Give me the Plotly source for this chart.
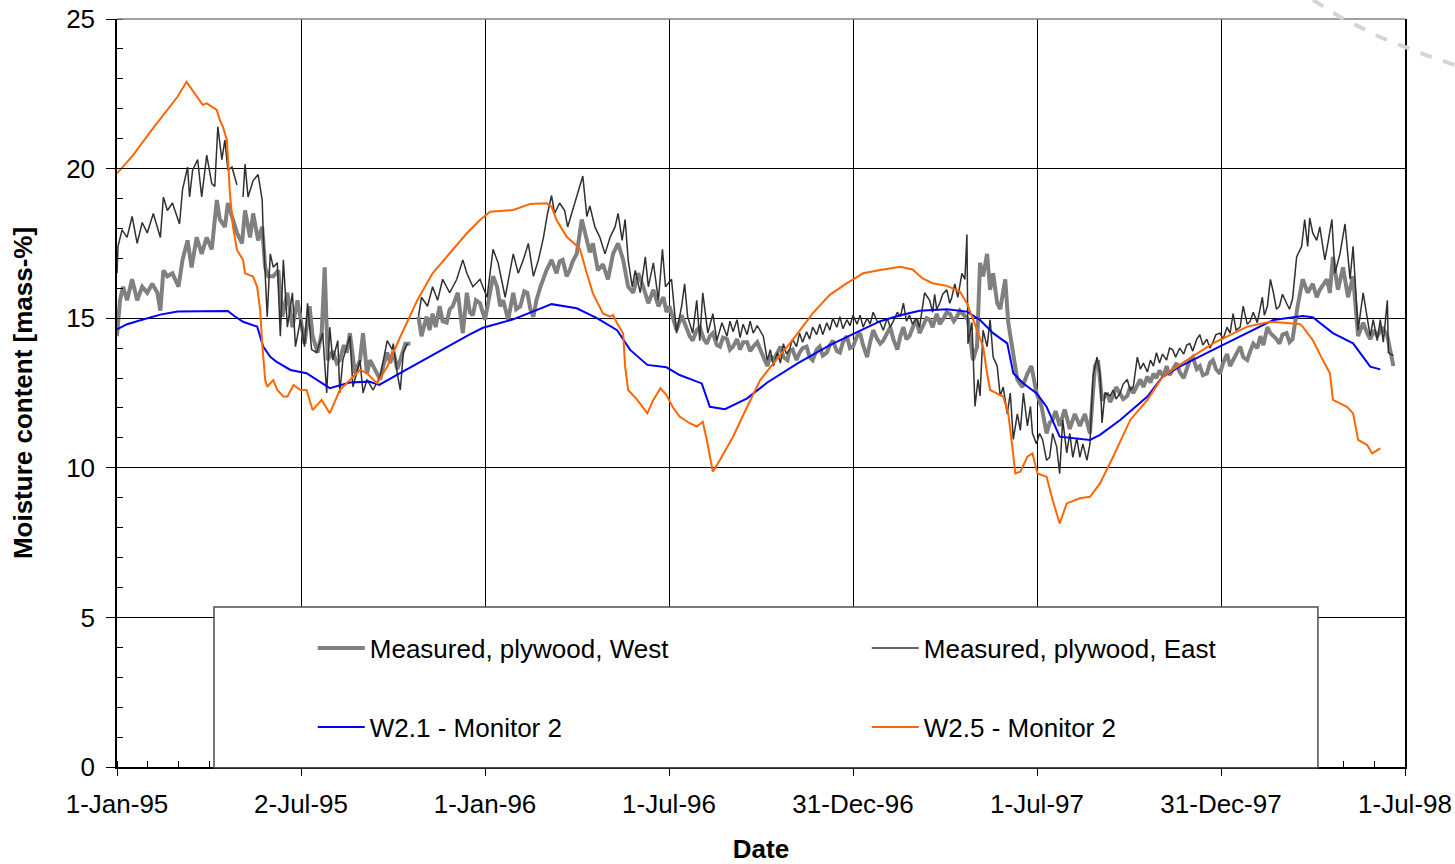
import pandas as pd
import plotly.graph_objects as go

START = pd.Timestamp("1995-01-01")

# ---- x-axis tick labels ----
tick_dates = ["1995-01-01", "1995-07-02 12:00", "1996-01-01", "1996-07-01 12:00",
              "1996-12-31", "1997-07-01 12:00", "1997-12-31", "1998-07-01 12:00"]
tick_labels = ["1-Jan-95", "2-Jul-95", "1-Jan-96", "1-Jul-96",
               "31-Dec-96", "1-Jul-97", "31-Dec-97", "1-Jul-98"]

# ---- Measured, plywood, West (days since 1-Jan-95, moisture %) ----
west_days = [0,3,6,10,15,20,25,30,35,40,43,46,50,55,61,65,70,74,79,84,89,94,99,102,107,110,114,119,124,127,
             132,135,140,144,147,150,155,160,164,169,174,179,182,186,191,194,199,203,206,209,214,218,221,225,228,231,
             236,241,244,248,251,254,258,261,264,268,271,274,278,281,286,291,294,299,302,307,310,313,316,320,323,327,
             330,333,338,343,347,350,353,356,360,365,370,373,377,380,383,388,393,396,400,404,407,410,413,416,420,426,
             431,436,439,442,446,449,452,456,461,466,469,472,477,482,487,492,497,502,507,512,517,522,527,532,537,542,
             545,548,552,555,560,565,568,571,575,578,582,585,588,591,595,598,601,605,608,611,615,618,621,625,628,631,
             635,638,641,645,648,651,655,658,661,665,667,670,674,677,680,684,687,690,694,697,700,704,707,710,714,717,
             720,724,727,730,734,737,740,744,747,750,754,757,760,764,767,770,774,777,780,783,786,790,793,796,799,803,
             806,809,813,816,819,823,826,830,833,836,839,844,849,853,856,859,863,866,869,873,876,881,884,888,893,898,
             903,907,912,917,922,925,928,931,935,940,945,950,955,960,965,970,973,977,982,985,988,991,995,998,1002,1005,
             1008,1012,1015,1018,1022,1025,1028,1031,1034,1038,1041,1044,1047,1051,1054,1058,1061,1064,1067,1071,1074,
             1077,1081,1084,1087,1090,1094,1097,1101,1104,1107,1111,1114,1117,1121,1124,1127,1131,1134,1137,1141,1144,
             1147,1150,1153,1156,1160,1163,1166,1168,1171,1176,1181,1186,1190,1193,1196,1200,1203,1206,1211,1216,1221,
             1226,1231,1236,1240,1243,1247,1250,1255,1260,1266]
west_vals = [14.4,15.6,16.05,15.6,16.3,15.6,16.05,15.85,16.15,15.85,15.25,16.6,16.4,16.5,16.05,16.95,17.6,16.7,17.7,
             17.15,17.7,17.3,18.95,18.3,18.05,18.85,18.4,17.85,17.5,18.6,17.7,18.5,17.6,18.05,16.7,16.4,16.4,16.6,15.05,
             15.85,14.7,15.6,15.0,14.15,15.4,14.4,13.85,14.5,16.7,13.6,13.9,13.5,13.6,14.1,13.85,14.5,13.15,13.6,14.5,
             13.15,13.6,13.4,13.1,12.95,13.4,13.85,13.5,13.9,13.3,13.6,14.15,14.15,None,15.05,14.4,15.05,14.6,15.15,14.7,
             15.4,14.9,14.85,15.3,15.4,15.85,14.5,15.85,15.2,15.1,15.6,15.5,14.95,15.85,16.4,16.05,15.4,15.6,14.95,15.85,
             15.3,15.4,15.9,15.85,15.3,15.05,15.6,16.05,16.6,16.95,16.5,16.9,16.95,16.4,16.6,16.9,17.15,18.3,17.6,17.2,
             17.5,16.6,16.8,16.3,17.15,17.5,16.95,16.05,15.85,16.5,16.05,15.5,15.95,15.4,15.7,15.2,15.4,15.0,14.6,15.1,
             14.7,14.4,14.25,14.6,14.7,14.3,14.15,14.4,14.5,14.1,14.05,14.35,14.3,13.95,14.05,14.3,13.95,14.2,14.2,13.9,
             14.05,14.2,13.95,13.7,13.4,13.75,13.6,13.85,14.05,13.7,13.6,13.9,13.95,13.6,13.85,14.0,14.05,13.7,13.6,13.95,
             14.05,13.75,13.85,14.1,14.25,13.9,13.85,14.2,14.4,14.0,14.05,14.4,14.5,14.1,13.7,14.2,14.6,14.3,14.15,14.25,
             14.55,14.7,14.3,13.95,14.4,14.7,14.3,14.4,14.75,14.95,14.5,14.7,15.0,14.95,14.7,15.15,14.8,14.95,15.2,15.15,
             14.9,15.05,15.25,15.15,14.95,13.6,14.05,16.85,16.4,17.15,15.95,16.5,15.5,15.3,16.3,14.85,14.05,12.95,12.7,
             13.15,13.4,12.5,12.05,11.15,11.5,11.6,11.9,11.4,11.95,11.3,11.8,11.4,11.8,11.15,13.4,13.6,12.25,12.5,12.2,
             12.4,12.7,12.5,12.3,12.4,12.7,12.5,12.8,12.95,12.7,13.05,12.85,13.15,13.0,13.25,13.05,13.4,13.1,13.3,13.5,
             13.2,13.0,13.3,13.6,13.7,13.3,13.4,13.1,13.15,13.5,13.6,13.3,13.15,13.5,13.8,13.4,13.6,13.9,14.05,13.7,13.6,
             13.9,14.15,14.0,14.4,14.1,14.7,14.5,14.4,14.3,14.15,14.45,14.5,14.2,14.3,14.8,15.4,16.3,15.85,16.15,15.7,
             15.95,16.1,16.3,15.85,17.05,15.95,16.7,15.7,16.4,14.4,14.85,14.5,14.3,14.6,14.4,14.7,14.4,13.4]

# ---- Measured, plywood, East ----
east_days = [0,1,5,10,15,20,25,30,36,43,46,50,55,62,65,70,72,75,80,84,89,94,97,100,104,107,110,114,119,122,125,127,
             130,135,140,144,145,149,152,155,159,162,165,169,174,177,182,186,189,193,198,204,208,211,214,219,221,224,
             231,234,241,244,248,254,261,268,273,274,278,281,284,288,294,299,302,308,313,318,323,330,337,343,347,353,
             360,367,373,378,385,393,398,403,408,413,418,423,427,431,434,439,444,447,451,456,459,462,466,469,474,479,
             484,489,494,497,501,504,507,511,514,519,524,527,532,537,541,544,550,555,560,563,566,571,575,578,581,586,
             591,595,600,605,608,611,615,618,621,625,628,631,635,641,645,648,651,655,658,661,664,667,670,674,677,680,
             684,687,690,694,697,700,704,707,710,714,717,720,724,727,730,734,737,740,744,747,750,754,757,760,764,767,
             770,774,777,780,783,786,789,793,796,801,806,809,811,813,816,819,823,826,828,831,834,838,841,843,844,848,
             851,854,856,859,863,866,869,873,876,879,883,886,889,893,896,899,903,906,908,912,915,918,922,925,928,932,
             935,938,942,945,948,952,955,958,962,965,968,972,975,977,980,985,988,991,995,998,1002,1005,1008,1012,1015,
             1018,1022,1025,1028,1031,1034,1037,1041,1044,1047,1050,1054,1058,1061,1064,1067,1071,1074,1077,1081,1084,
             1087,1090,1094,1097,1101,1104,1107,1110,1114,1117,1121,1124,1127,1131,1136,1138,1141,1144,1147,1150,1153,
             1156,1160,1163,1166,1170,1175,1178,1181,1183,1186,1190,1193,1198,1201,1205,1208,1213,1218,1223,1226,1231,
             1236,1240,1243,1246,1250,1253,1256,1260,1261,1266]
east_vals = [16.5,17.4,17.95,17.7,18.4,17.5,18.2,17.85,18.5,17.7,19.05,18.6,18.85,18.15,19.3,20.05,19.05,19.95,20.3,
             19.05,20.45,19.5,19.4,21.4,20.3,20.95,19.95,20.05,19.45,None,19.05,20.15,19.05,19.6,19.8,18.95,17.85,15.05,
             17.15,16.7,16.85,14.4,16.95,14.7,15.85,14.05,14.95,14.05,15.5,13.95,13.85,14.5,12.5,14.7,13.6,14.25,12.5,
             13.6,14.4,12.7,13.6,12.5,12.95,12.6,13.05,14.25,13.95,14.15,13.15,12.6,13.85,14.15,None,15.05,15.7,15.4,
             16.05,15.6,16.3,15.85,16.3,16.95,16.5,16.05,16.3,15.7,17.3,16.85,15.7,17.15,16.5,16.95,17.5,16.4,16.95,17.7,
             18.5,19.1,18.5,18.85,18.6,18.05,18.5,19.05,19.4,19.75,18.4,18.75,18.05,17.7,17.15,17.7,18.05,18.5,17.6,18.3,
             16.95,16.05,16.6,15.85,17.05,16.05,16.85,15.6,17.3,16.05,16.3,14.5,15.4,16.15,15.05,14.5,15.6,14.25,15.85,
             14.5,15.15,14.25,14.85,14.4,14.9,14.55,14.95,14.35,14.8,14.45,14.9,14.5,14.75,14.4,13.6,13.95,13.4,13.85,
             13.5,14.15,13.8,13.95,14.3,14.05,14.5,14.2,14.55,14.3,14.7,14.45,14.8,14.45,14.85,14.6,15.0,14.7,15.05,14.65,
             14.95,14.75,15.1,14.8,15.1,14.7,15.0,14.8,15.2,14.9,14.85,14.6,15.0,14.7,14.9,15.2,15.05,15.5,14.9,15.1,14.8,
             15.0,14.7,15.85,15.6,15.2,15.8,15.3,15.5,15.8,15.95,15.5,15.7,16.15,15.7,16.5,16.3,17.8,14.15,14.85,12.05,
             12.95,12.4,14.6,14.05,14.95,13.7,13.4,12.4,12.7,11.8,12.5,10.95,11.8,11.25,12.5,11.4,12.05,11.15,10.8,11.15,
             10.95,10.25,10.35,11.15,10.7,9.8,11.6,10.5,11.15,10.35,11.0,10.35,10.8,10.25,10.8,13.05,13.7,13.15,11.5,12.5,
             12.4,12.6,12.3,12.5,12.8,12.95,12.6,12.7,13.7,13.3,13.5,13.2,13.6,13.4,13.85,13.5,13.8,13.6,14.0,13.95,13.7,
             14.0,13.8,14.1,14.15,13.9,14.3,14.45,14.1,14.3,14.0,14.2,14.45,14.5,14.3,14.7,14.5,15.15,14.6,14.7,15.4,14.8,
             14.9,15.2,14.85,15.7,15.1,15.4,16.3,15.85,15.3,15.4,15.8,15.5,15.3,15.65,17.05,17.4,18.3,17.4,18.35,17.85,
             17.6,18.05,16.95,17.5,18.3,16.5,17.15,18.15,16.3,17.4,14.6,15.85,15.1,14.4,14.95,14.25,14.95,14.2,15.6,13.85,
             13.75]

# ---- W2.1 - Monitor 2 ----
w21_days = [0,10,25,43,60,85,110,116,125,139,145,152,158,172,188,211,231,250,260,283,316,349,363,393,431,456,476,
            496,509,526,545,558,580,588,603,625,645,675,707,757,777,796,823,843,856,869,883,889,899,912,922,935,965,
            975,995,1022,1037,1054,1087,1121,1147,1176,1186,1206,1226,1243,1253]
w21_vals = [14.63,14.8,14.95,15.12,15.22,15.24,15.24,15.08,14.88,14.72,14.05,13.71,13.55,13.27,13.16,12.66,12.85,
            12.88,12.77,13.21,13.83,14.44,14.68,14.96,15.47,15.33,15.0,14.6,13.94,13.44,13.36,13.1,12.82,12.04,11.96,
            12.32,12.85,13.49,14.1,14.9,15.1,15.25,15.3,15.22,14.94,14.5,14.16,13.16,12.82,12.49,12.04,11.04,10.93,
            11.1,11.6,12.38,13.04,13.38,13.94,14.5,14.94,15.07,15.03,14.5,14.16,13.38,13.29]

# ---- W2.5 - Monitor 2 ----
w25_days = [0,16,33,50,60,69,79,85,89,99,102,105,109,110,112,115,119,125,127,135,139,142,144,147,149,155,159,165,
            169,175,182,188,194,203,211,221,241,248,258,268,281,298,313,330,347,360,370,393,410,426,431,436,446,459,
            462,466,472,482,489,492,496,502,504,507,516,526,532,539,545,551,558,568,575,581,585,591,598,611,625,638,
            651,670,690,707,724,740,757,777,789,799,809,823,836,843,853,859,863,866,879,884,888,891,896,903,908,913,
            922,928,935,942,955,965,975,988,1005,1022,1037,1054,1087,1121,1144,1173,1176,1186,1196,1203,1206,1220,
            1226,1231,1240,1245,1253]
w25_vals = [19.84,20.45,21.23,21.96,22.4,22.9,22.4,22.13,22.18,21.96,21.62,21.4,20.96,20.29,19.17,18.06,17.28,16.95,
            16.5,16.39,16.05,15.27,14.16,12.93,12.71,12.93,12.6,12.38,12.38,12.77,12.6,12.6,11.93,12.27,11.82,12.6,
            13.27,13.16,12.82,13.38,14.38,15.61,16.5,17.17,17.84,18.28,18.56,18.62,18.82,18.84,18.73,18.28,17.72,17.33,
            16.95,16.5,15.83,15.16,15.05,15.1,14.83,14.49,13.38,12.6,12.27,11.82,12.27,12.66,12.43,12.04,11.71,11.49,
            11.38,11.54,10.93,9.87,10.26,11.04,12.04,12.93,13.49,14.27,15.16,15.78,16.17,16.5,16.61,16.72,16.63,16.33,
            16.17,16.08,15.89,15.5,14.61,14.05,13.16,12.6,12.38,11.82,10.7,9.81,9.87,10.37,10.48,9.81,9.7,8.92,8.14,
            8.81,8.98,9.03,9.48,10.37,11.6,12.27,13.04,13.44,14.16,14.72,14.88,14.81,14.72,14.27,13.6,13.16,12.27,12.04,
            11.82,10.93,10.76,10.48,10.65]


def to_dates(days):
    return [START + pd.Timedelta(days=d) for d in days]


FONT = "Liberation Sans, Arial, sans-serif"

fig = go.Figure()
fig.add_trace(go.Scatter(x=to_dates(west_days), y=west_vals, mode="lines",
                         name="Measured, plywood, West", connectgaps=False,
                         line=dict(color="#808080", width=4), legend="legend"))
fig.add_trace(go.Scatter(x=to_dates(east_days), y=east_vals, mode="lines",
                         name="Measured, plywood, East", connectgaps=False,
                         line=dict(color="#303030", width=1.5), legend="legend"))
fig.add_trace(go.Scatter(x=to_dates(w21_days), y=w21_vals, mode="lines",
                         name="W2.1 - Monitor 2",
                         line=dict(color="#0000ff", width=2), legend="legend2"))
fig.add_trace(go.Scatter(x=to_dates(w25_days), y=w25_vals, mode="lines",
                         name="W2.5 - Monitor 2",
                         line=dict(color="#ff6600", width=2), legend="legend2"))

legend_common = dict(orientation="h", xanchor="left", yanchor="middle",
                     bgcolor="rgba(0,0,0,0)", borderwidth=0,
                     font=dict(family=FONT, size=26, color="black"),
                     itemwidth=47, entrywidth=492, entrywidthmode="pixels",
                     traceorder="normal")

fig.update_layout(
    width=1455, height=864,
    margin=dict(l=117, r=50, t=19, b=97, autoexpand=False),
    paper_bgcolor="white", plot_bgcolor="white",
    font=dict(family=FONT, size=26, color="black"),
    showlegend=True,
    legend=dict(x=0.152, y=0.159, **legend_common),
    legend2=dict(x=0.152, y=0.0535, **legend_common),
    xaxis=dict(
        type="date", automargin=False,
        range=["1995-01-01", "1998-07-01 12:00"],
        tickmode="array", tickvals=tick_dates, ticktext=tick_labels,
        ticks="outside", ticklen=7, tickwidth=1.2, tickcolor="black",
        ticklabelstandoff=6,
        showgrid=True, gridcolor="black", gridwidth=1,
        showline=True, linecolor="black", linewidth=1.5,
        zeroline=False,
        tickfont=dict(family=FONT, size=26, color="black"),
        minor=dict(tickmode="linear", tick0="1995-01-01", dtick=2628000000,
                   ticks="inside", ticklen=6, tickcolor="black", tickwidth=1, showgrid=False),
        title=dict(text="<b>Date</b>", font=dict(family=FONT, size=26, color="black"), standoff=27),
    ),
    yaxis=dict(
        automargin=False,
        range=[0, 25], tickmode="linear", tick0=0, dtick=5,
        ticks="outside", ticklen=9, tickwidth=1.2, tickcolor="black",
        ticklabelstandoff=6,
        showgrid=True, gridcolor="black", gridwidth=1,
        showline=True, linecolor="black", linewidth=1.5, mirror=True,
        zeroline=False,
        tickfont=dict(family=FONT, size=26, color="black"),
        minor=dict(tickmode="linear", tick0=0, dtick=1, ticks="inside", ticklen=6,
                   tickcolor="black", tickwidth=1, showgrid=False),
        title=dict(text="<b>Moisture content [mass-%]</b>",
                   font=dict(family=FONT, size=26, color="black"), standoff=26),
    ),
    shapes=[
        # top border of plot area
        dict(type="line", xref="paper", yref="paper", x0=0, x1=1, y0=1, y1=1,
             line=dict(color="#808080", width=1.5), layer="above"),
        # legend box
        dict(type="rect", xref="paper", yref="paper", x0=0.0753, x1=0.9324, y0=-0.001, y1=0.2139,
             fillcolor="white", line=dict(color="#4d4d4d", width=1.5), layer="above"),
        # decorative dashed arc (page artefact, top right)
        dict(type="path", xref="paper", yref="paper",
             path="M 0.9286 1.0254 L 0.9495 1.0027 L 0.9806 0.9759 L 1.0116 0.9545 L 1.0388 0.9385",
             line=dict(color="#d4d4d4", width=4, dash="dash"), layer="above"),
    ],
)

fig.write_html("out.html",
               config={"displayModeBar": False, "displaylogo": False},
               post_script="document.body.style.margin='0';document.body.style.overflow='hidden';")
